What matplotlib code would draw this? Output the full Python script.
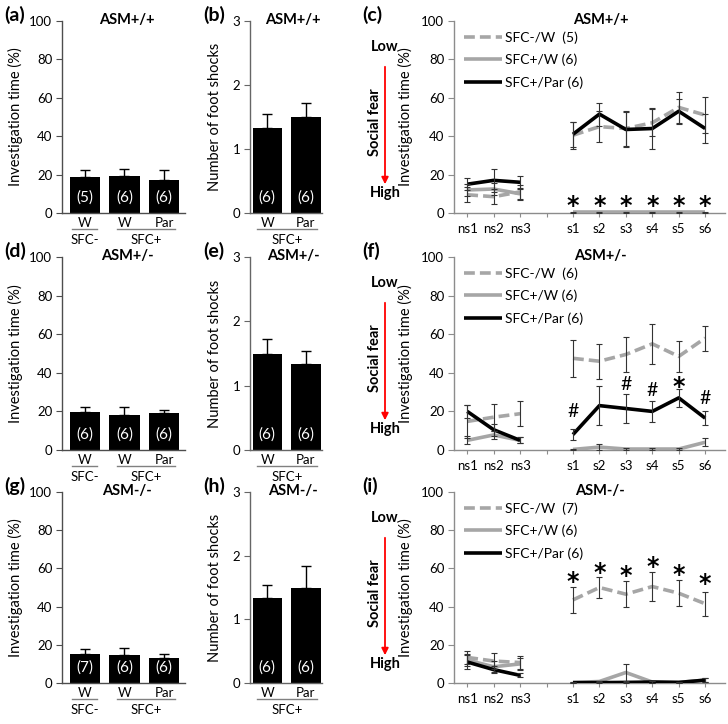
import numpy as np
import matplotlib
matplotlib.use('Agg')
from matplotlib import pyplot as plt
from matplotlib.patches import FancyArrowPatch

plt.rcParams['font.family'] = ['Lato', 'DejaVu Sans']

# investigation time bars (SFC-/W, SFC+/W, SFC+/Par)
bar_labels = ['W', 'W', 'Par']
time_a = [18.9, 19.3, 17.2]
time_a_err = [3.5, 3.5, 5.2]
time_a_n = ['(5)', '(6)', '(6)']
time_d = [19.8, 18.1, 19.0]
time_d_err = [2.6, 4.3, 1.7]
time_d_n = ['(6)', '(6)', '(6)']
time_g = [15.0, 14.6, 13.0]
time_g_err = [2.7, 3.8, 2.2]
time_g_n = ['(7)', '(6)', '(6)']

# foot shocks (SFC+/W, SFC+/Par)
shock_labels = ['W', 'Par']
shock_b = [1.333, 1.5]
shock_b_err = [0.21, 0.22]
shock_e = [1.5, 1.333]
shock_e_err = [0.22, 0.21]
shock_h = [1.333, 1.5]
shock_h_err = [0.21, 0.33]
shock_n = ['(6)', '(6)']

# time course: ns1-ns3 and s1-s6
trial_labels = ['ns1', 'ns2', 'ns3', '', 's1', 's2', 's3', 's4', 's5', 's6']
x_ns = [1, 2, 3]
x_s = [5, 6, 7, 8, 9, 10]

c_sfcm_w_ns = [9.5, 8.5, 11.0]
c_sfcm_w_ns_err = [4, 4, 3.5]
c_sfcm_w_s = [40.5, 45, 44, 47, 55, 51]
c_sfcm_w_s_err = [7, 8, 9, 7, 8, 9.5]
c_sfcp_w_ns = [12, 12.5, 10]
c_sfcp_w_ns_err = [3, 3, 3]
c_sfcp_w_s = [0.3, 0.3, 0.3, 0.3, 0.3, 0.3]
c_sfcp_w_s_err = [0.3, 0.3, 0.3, 0.3, 0.3, 0.3]
c_par_ns = [15, 17, 16]
c_par_ns_err = [3, 6, 3.5]
c_par_s = [41, 51.5, 43.5, 44, 53, 44]
c_par_s_err = [6.5, 6, 9, 10.5, 6.5, 7.5]
c_marks = ['*', '*', '*', '*', '*', '*']
c_marks_y = [6.9, 6.9, 6.9, 6.9, 6.9, 6.9]

f_sfcm_w_ns = [14.8, 17, 18.8]
f_sfcm_w_ns_err = [8.5, 7, 6.5]
f_sfcm_w_s = [47.5, 46, 49.5, 55, 48.5, 58]
f_sfcm_w_s_err = [9.5, 9, 9, 10.5, 8, 6.5]
f_sfcp_w_ns = [5, 7.8, 5]
f_sfcp_w_ns_err = [2, 2, 1.5]
f_sfcp_w_s = [0.3, 1.5, 0.5, 0.5, 0.5, 4]
f_sfcp_w_s_err = [0.3, 1.5, 0.3, 0.3, 0.3, 2]
f_par_ns = [20, 10.5, 5]
f_par_ns_err = [3.5, 3, 1.5]
f_par_s = [8, 23, 21.5, 20, 27, 16.5]
f_par_s_err = [3, 10, 7.5, 5.5, 4.5, 3.5]
f_marks = ['#', '', '#', '#', '*', '#']
f_marks_y = [20, 0, 34, 31, 35.5, 26.5]

i_sfcm_w_ns = [13.4, 11.5, 10.7]
i_sfcm_w_ns_err = [3.5, 4, 3.5]
i_sfcm_w_s = [43.5, 50, 46.5, 50.5, 47, 41.5]
i_sfcm_w_s_err = [6.7, 5.7, 6.7, 7.5, 6.7, 6.4]
i_sfcp_w_ns = [12, 8.5, 10]
i_sfcp_w_ns_err = [3, 3, 3]
i_sfcp_w_s = [0.2, 0.8, 5.5, 0.5, 0.3, 1.5]
i_sfcp_w_s_err = [0.2, 0.5, 4.5, 0.3, 0.3, 1]
i_par_ns = [11, 7, 4]
i_par_ns_err = [3.5, 2, 1]
i_par_s = [0.2, 0.2, 0.3, 0.5, 0.3, 1.5]
i_par_s_err = [0.2, 0.2, 0.2, 0.3, 0.3, 1]
i_marks = ['*', '*', '*', '*', '*', '*']
i_marks_y = [56, 60.7, 59, 63.6, 59.6, 55]

W, H = 728, 724
fig = plt.figure(figsize=(W / 100, H / 100), dpi=100)
GRAY = '#a6a6a6'
BAR_SPINE = '#4d4d4d'
LINE_SPINE = '#8c8c8c'


def add_ax(left, top, right, bottom):
    return fig.add_axes([left / W, 1 - bottom / H, (right - left) / W, (bottom - top) / H])


def style_axes(ax, color):
    for s in ['top', 'right']:
        ax.spines[s].set_visible(False)
    for s in ['left', 'bottom']:
        ax.spines[s].set_color(color)
        ax.spines[s].set_linewidth(1)
    ax.tick_params(axis='y', direction='out', length=4, color=color, labelsize=9.5, pad=3)


def group_line(ax, x0, x1, label):
    tr = ax.get_xaxis_transform()
    ax.plot([x0, x1], [-0.085, -0.085], color='#808080', lw=1, transform=tr, clip_on=False)
    ax.text((x0 + x1) / 2, -0.14, label, transform=tr, ha='center', va='center', fontsize=9.5)


def add_counts(ax, x, ns, px_h):
    for xi, n in zip(x, ns):
        ax.text(xi, 15 / px_h, n, transform=ax.get_xaxis_transform(), color='white',
                ha='center', va='center', fontsize=11)


def time_bars(ax, vals, errs, ns, title, px_h):
    x = np.arange(len(vals))
    ax.bar(x, vals, width=0.77, color='black', zorder=2)
    ax.errorbar(x, vals, yerr=[np.zeros(len(vals)), errs], fmt='none', ecolor='black',
                elinewidth=1, capsize=3.5, capthick=1, zorder=3)
    add_counts(ax, x, ns, px_h)
    ax.set_xlim(-0.58, 2.53)
    ax.set_ylim(0, 100)
    ax.set_yticks([0, 20, 40, 60, 80, 100])
    ax.set_xticks(x, bar_labels)
    ax.tick_params(axis='x', length=0, labelsize=9.5, pad=3)
    style_axes(ax, BAR_SPINE)
    ax.set_ylabel('Investigation time (%)', fontsize=10.5)
    ax.yaxis.set_label_coords(-39 / 123, 0.5)
    ax.set_title(title, fontsize=10.5, fontweight='bold', y=1 - 7 / px_h, va='center', x=0.53)
    group_line(ax, -0.33, 0.3, 'SFC-')
    group_line(ax, 0.8, 2.28, 'SFC+')


def shock_bars(ax, vals, errs, ns, title, px_h):
    x = np.arange(len(vals))
    ax.bar(x, vals, width=0.77, color='black', zorder=2)
    ax.errorbar(x, vals, yerr=[np.zeros(len(vals)), errs], fmt='none', ecolor='black',
                elinewidth=1, capsize=3.5, capthick=1, zorder=3)
    add_counts(ax, x, ns, px_h)
    ax.set_xlim(-0.45, 1.42)
    ax.set_ylim(0, 3)
    ax.set_yticks([0, 1, 2, 3])
    ax.set_xticks(x, shock_labels)
    ax.tick_params(axis='x', length=0, labelsize=9.5, pad=3)
    style_axes(ax, '#666666')
    ax.set_ylabel('Number of foot shocks', fontsize=10.5)
    ax.yaxis.set_label_coords(-28 / 72, 0.5)
    ax.set_title(title, fontsize=10.5, fontweight='bold', y=1 - 7 / px_h, va='center',
                 x=0.6)
    group_line(ax, -0.28, 1.3, 'SFC+')


def time_lines(ax, series, marks, marks_y, title, px_h):
    for ns_v, ns_e, s_v, s_e, color, ls, label in series:
        dash = (3, 1.4) if ls == '--' else None
        for xs, v, e, lab in [(x_ns, ns_v, ns_e, label), (x_s, s_v, s_e, None)]:
            line, = ax.plot(xs, v, color=color, lw=2.6, label=lab, zorder=3,
                            solid_capstyle='butt')
            if dash:
                line.set_dashes(dash)
            ax.errorbar(xs, v, yerr=e, fmt='none', ecolor='#333333', elinewidth=0.8,
                        capsize=2.5, capthick=0.8, zorder=4)
    for xi, m, my in zip(x_s, marks, marks_y):
        if m == '*':
            ax.text(xi, my - 3.0, m, ha='center', va='center', fontsize=17,
                    family='DejaVu Sans', fontweight='bold', zorder=5)
        elif m:
            ax.text(xi, my, m, ha='center', va='center', fontsize=14, zorder=5)
    ax.set_xlim(0.5, 10.75)
    ax.set_ylim(0, 100)
    ax.set_yticks([0, 20, 40, 60, 80, 100])
    ax.set_xticks(range(1, 11), trial_labels)
    ax.tick_params(axis='x', direction='out', length=3, color=LINE_SPINE, labelsize=9.5, pad=4)
    style_axes(ax, LINE_SPINE)
    ax.set_ylabel('Investigation time (%)', fontsize=10.5)
    ax.yaxis.set_label_coords(-41 / 271, 0.5)
    ax.set_title(title, fontsize=10.5, fontweight='bold', y=1 - 7 / px_h, va='center', x=0.54)
    ax.legend(loc='upper left', bbox_to_anchor=(0.0, 1.0), frameon=False, fontsize=10,
              handlelength=2.7, handletextpad=0.2, labelspacing=0.7, borderaxespad=0.4,
              borderpad=0.35)


def fear_arrow(top):
    x = 385
    fig.text(x / W, 1 - (top + 26) / H, 'Low', ha='center', va='center',
             fontsize=10.5, fontweight='bold')
    fig.text(x / W, 1 - (top + 172) / H, 'High', ha='center', va='center',
             fontsize=10.5, fontweight='bold')
    fig.text(375 / W, 1 - (top + 101) / H, 'Social fear', ha='center', va='center',
             fontsize=10.5, fontweight='bold', rotation=90)
    fig.add_artist(FancyArrowPatch((x / W, 1 - (top + 43) / H), (x / W, 1 - (top + 166) / H),
                                   transform=fig.transFigure, arrowstyle='-|>',
                                   mutation_scale=10, color='red', lw=1.3))


rows = [(21, 213), (257, 450), (492, 683)]
time_sets = [(time_a, time_a_err, time_a_n, 'ASM+/+'),
             (time_d, time_d_err, time_d_n, 'ASM+/-'),
             (time_g, time_g_err, time_g_n, 'ASM-/-')]
shock_sets = [(shock_b, shock_b_err, 'ASM+/+'),
              (shock_e, shock_e_err, 'ASM+/-'),
              (shock_h, shock_h_err, 'ASM-/-')]
line_sets = [
    ([(c_sfcm_w_ns, c_sfcm_w_ns_err, c_sfcm_w_s, c_sfcm_w_s_err, GRAY, '--', 'SFC-/W  (5)'),
      (c_sfcp_w_ns, c_sfcp_w_ns_err, c_sfcp_w_s, c_sfcp_w_s_err, GRAY, '-', 'SFC+/W (6)'),
      (c_par_ns, c_par_ns_err, c_par_s, c_par_s_err, 'black', '-', 'SFC+/Par (6)')],
     c_marks, c_marks_y, 'ASM+/+'),
    ([(f_sfcm_w_ns, f_sfcm_w_ns_err, f_sfcm_w_s, f_sfcm_w_s_err, GRAY, '--', 'SFC-/W  (6)'),
      (f_sfcp_w_ns, f_sfcp_w_ns_err, f_sfcp_w_s, f_sfcp_w_s_err, GRAY, '-', 'SFC+/W (6)'),
      (f_par_ns, f_par_ns_err, f_par_s, f_par_s_err, 'black', '-', 'SFC+/Par (6)')],
     f_marks, f_marks_y, 'ASM+/-'),
    ([(i_sfcm_w_ns, i_sfcm_w_ns_err, i_sfcm_w_s, i_sfcm_w_s_err, GRAY, '--', 'SFC-/W  (7)'),
      (i_sfcp_w_ns, i_sfcp_w_ns_err, i_sfcp_w_s, i_sfcp_w_s_err, GRAY, '-', 'SFC+/W (6)'),
      (i_par_ns, i_par_ns_err, i_par_s, i_par_s_err, 'black', '-', 'SFC+/Par (6)')],
     i_marks, i_marks_y, 'ASM-/-'),
]
panel_letters = [('(a)', '(b)', '(c)'), ('(d)', '(e)', '(f)'), ('(g)', '(h)', '(i)')]

for r, (top, bottom) in enumerate(rows):
    px_h = bottom - top
    ax1 = add_ax(62, top, 185, bottom)
    time_bars(ax1, *time_sets[r], px_h)
    ax2 = add_ax(250, top, 322, bottom)
    shock_bars(ax2, shock_sets[r][0], shock_sets[r][1], shock_n, shock_sets[r][2], px_h)
    ax3 = add_ax(454, top, 725, bottom)
    time_lines(ax3, *line_sets[r], px_h)
    fear_arrow(top)
    for lx, letter in zip([4, 203, 362], panel_letters[r]):
        fig.text(lx / W, 1 - (top - 6) / H, letter, ha='left', va='center',
                 fontsize=14, fontweight='bold')

plt.savefig('out.png', dpi=100)
plt.close()
